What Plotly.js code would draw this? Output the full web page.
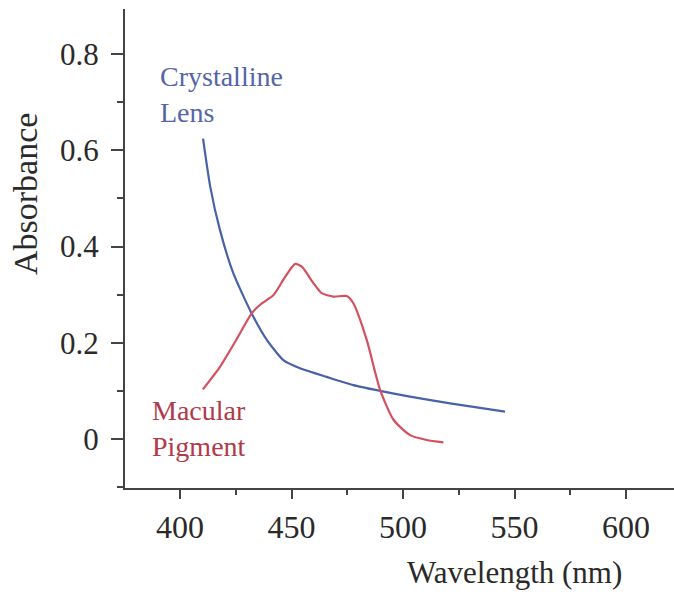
<!DOCTYPE html>
<html><head><meta charset="utf-8">
<script src="https://cdn.plot.ly/plotly-3.0.1.min.js"></script>
<style>html,body{margin:0;padding:0;background:#fff;}#chart{width:674px;height:596px;}</style>
</head><body><div id="chart"></div>
<script>
// Crystalline Lens absorbance
const lensWavelength = [410.3, 413.5, 417.9, 423.9, 432.1, 438.9, 446.3, 453.8, 465.8, 477.7, 489.7, 503.1, 521.1, 545.7];
const lensAbsorbance = [0.624, 0.525, 0.434, 0.344, 0.261, 0.206, 0.164, 0.147, 0.129, 0.112, 0.100, 0.088, 0.074, 0.057];
// Macular Pigment absorbance
const macWavelength = [410.2, 417.9, 424.7, 432.1, 435.9, 441.9, 447.1, 451.6, 454.6, 459.8, 463.5, 468.7, 474.7, 477.7, 483.7, 489.7, 495.7, 503.1, 510.6, 518.1];
const macAbsorbance = [0.103, 0.150, 0.202, 0.261, 0.279, 0.299, 0.337, 0.364, 0.358, 0.324, 0.303, 0.296, 0.297, 0.282, 0.206, 0.102, 0.040, 0.008, -0.002, -0.007];
const xTickVals = [400, 450, 500, 550, 600];
const yTickVals = [0, 0.2, 0.4, 0.6, 0.8];
const yTickText = ['0', '0.2', '0.4', '0.6', '0.8'];

const serif = "Liberation Serif, Times New Roman, serif";
const traces = [
  {x: lensWavelength, y: lensAbsorbance, mode: 'lines', line: {color: '#4862a8', width: 2.2, shape: 'spline', smoothing: 0.6}, hoverinfo: 'skip'},
  {x: macWavelength, y: macAbsorbance, mode: 'lines', line: {color: '#d4505e', width: 2.2, shape: 'spline', smoothing: 0.6}, hoverinfo: 'skip'}
];
const plotW = 674 - 125, plotH = 596 - 9 - 108;
const layout = {
  width: 674, height: 596,
  margin: {l: 125, r: 0, t: 9, b: 108, pad: 0},
  paper_bgcolor: '#fff', plot_bgcolor: '#fff',
  showlegend: false,
  font: {family: serif, color: '#2a2a2a', size: 30},
  xaxis: {
    range: [375.3, 621.5], tickvals: xTickVals, ticktext: xTickVals.map(String),
    ticks: 'outside', ticklen: 9, tickwidth: 2, tickcolor: '#444',
    showline: true, linecolor: '#444', linewidth: 2, showgrid: false, zeroline: false,
    ticklabelstandoff: 1,
    tickfont: {family: serif, size: 32, color: '#2a2a2a'},
    minor: {dtick: 25, tick0: 400, ticks: 'outside', ticklen: 5, tickwidth: 2, tickcolor: '#444', showgrid: false}
  },
  yaxis: {
    range: [-0.1018, 0.8935], tickvals: yTickVals, ticktext: yTickText,
    ticks: 'outside', ticklen: 12, tickwidth: 2, tickcolor: '#444',
    showline: true, linecolor: '#444', linewidth: 2, showgrid: false, zeroline: false,
    ticklabelstandoff: 6,
    tickfont: {family: serif, size: 31, color: '#2a2a2a'},
    minor: {dtick: 0.1, tick0: 0, ticks: 'outside', ticklen: 6, tickwidth: 2, tickcolor: '#444', showgrid: false}
  },
  annotations: [
    {text: 'Crystalline<br>Lens', x: 390.1, y: 0.79, xref: 'x', yref: 'y', xanchor: 'left', yanchor: 'top', align: 'left', showarrow: false, font: {family: serif, size: 28, color: '#5565a5'}},
    {text: 'Macular<br>Pigment', x: 386.3, y: 0.095, xref: 'x', yref: 'y', xanchor: 'left', yanchor: 'top', align: 'left', showarrow: false, font: {family: serif, size: 28, color: '#b03a48'}},
    {text: 'Absorbance', x: (25 - 125) / plotW, y: 1 - (194 - 9) / plotH, xref: 'paper', yref: 'paper', xanchor: 'center', yanchor: 'middle', showarrow: false, textangle: -90, font: {family: serif, size: 34, color: '#2a2a2a'}},
    {text: 'Wavelength (nm)', x: (514 - 125) / plotW, y: 1 - (572 - 9) / plotH, xref: 'paper', yref: 'paper', xanchor: 'center', yanchor: 'middle', showarrow: false, font: {family: serif, size: 31, color: '#2a2a2a'}}
  ]
};
Plotly.newPlot('chart', traces, layout, {staticPlot: true, displayModeBar: false});
</script></body></html>
